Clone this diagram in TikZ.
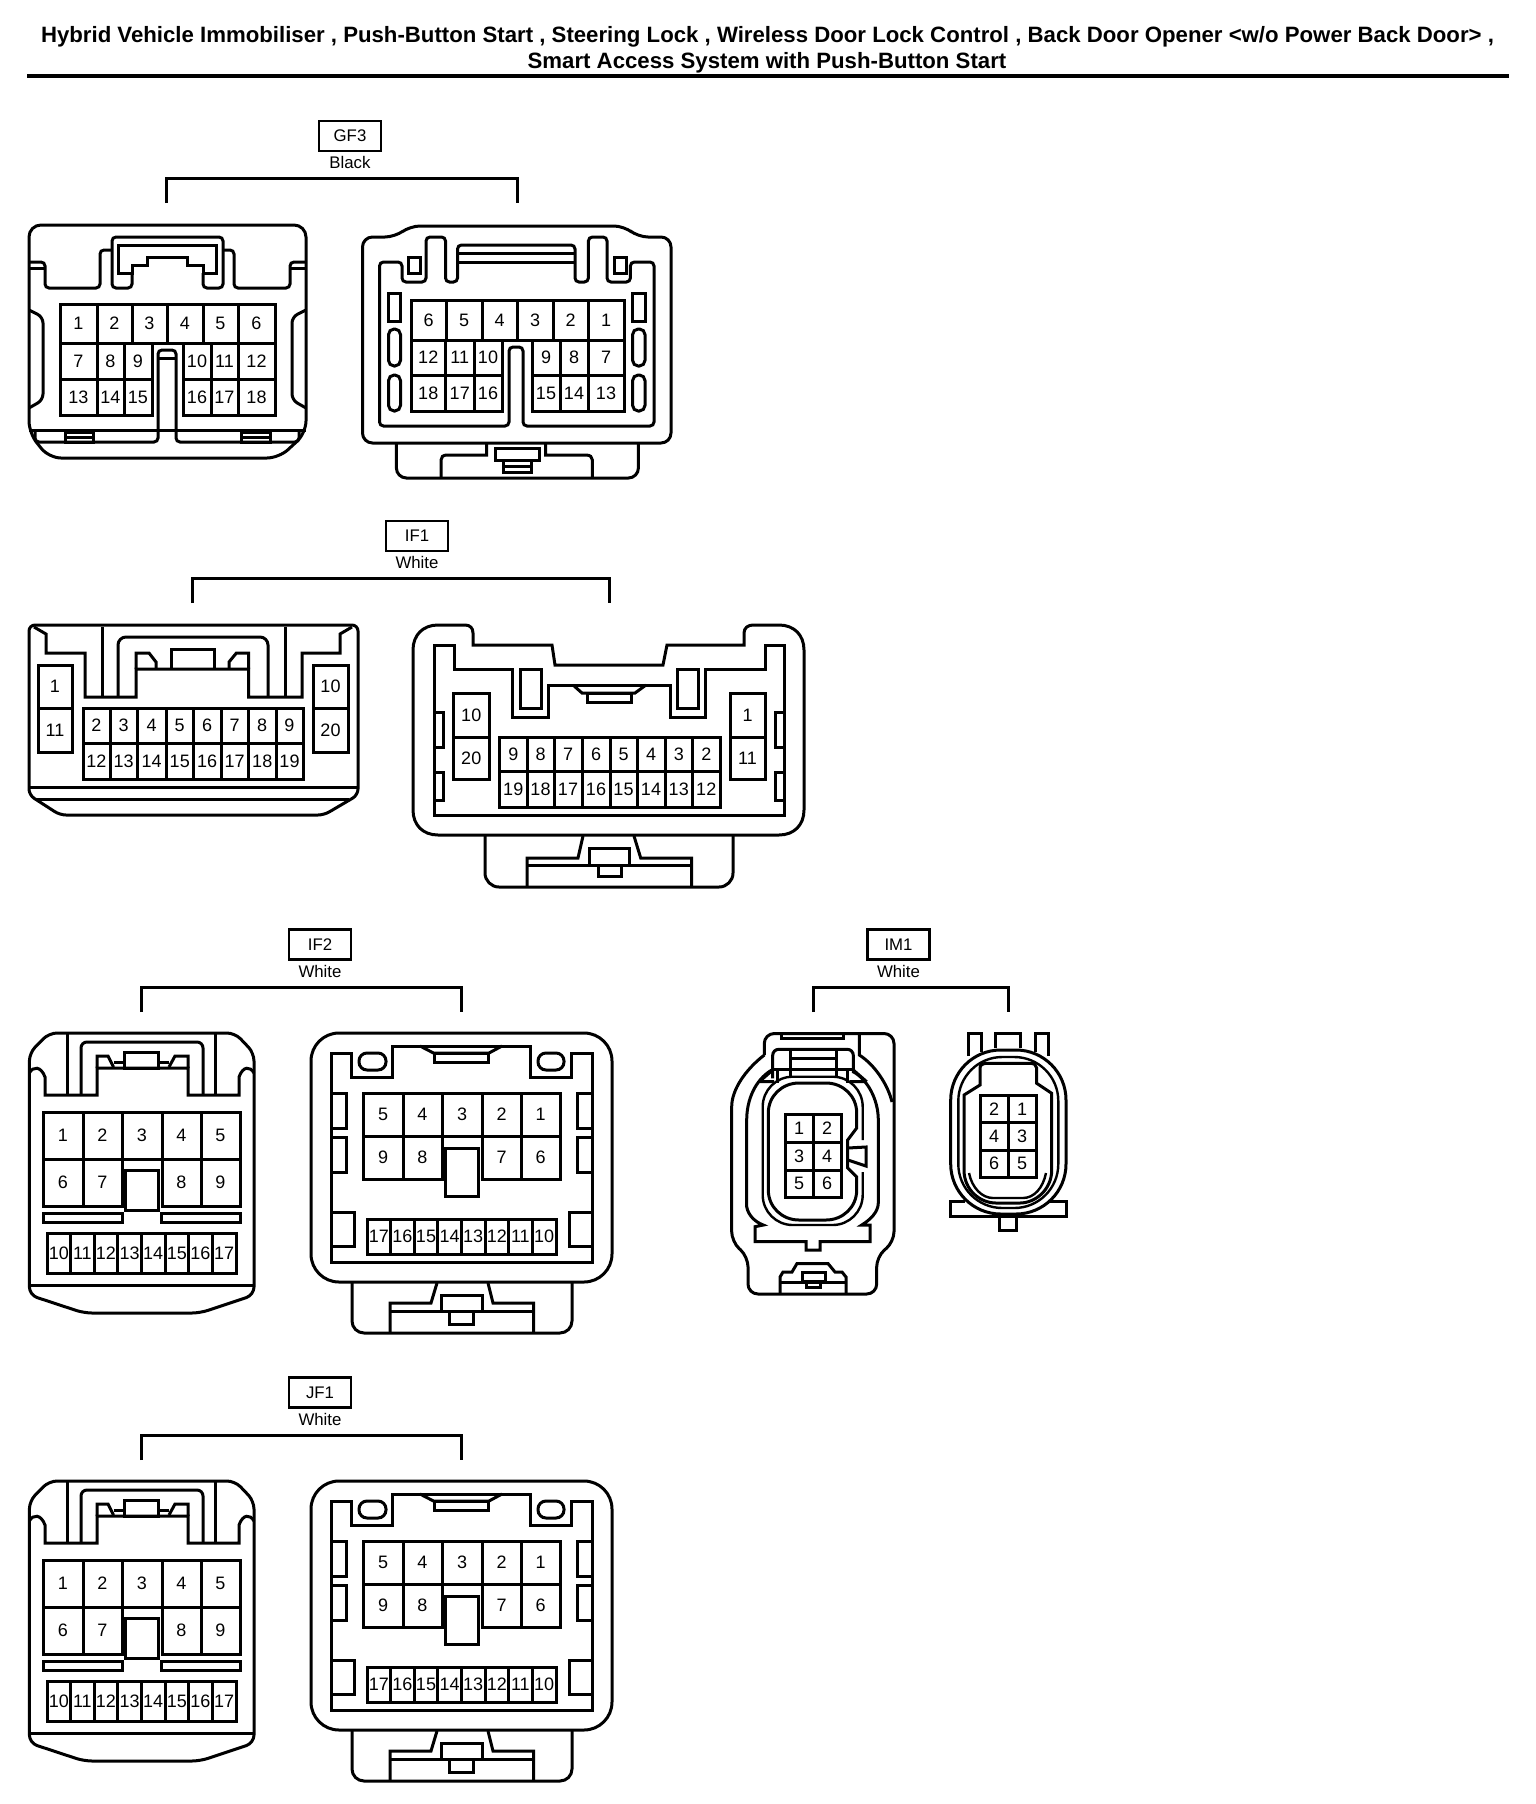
\documentclass[tikz,border=0pt]{standalone}
\usepackage{xcolor}
\usepackage{fontspec}
\setmainfont{Liberation Sans}
\usepackage{tikz}
\usetikzlibrary{positioning}

\tikzset{
	conn/.style={line width=1.5pt},
	ringline/.style={line width=1.2pt},
	gridline/.style={line width=1.5pt},
	pinlabel/.style={inner sep=0pt,font=\fontsize{9}{10}\selectfont},
	tagbox/.style={draw,line width=1.3pt,minimum width=31pt,minimum height=15pt,inner sep=0pt,font=\fontsize{8.4}{10}\selectfont},
	colourlabel/.style={inner sep=0pt,font=\fontsize{8.4}{10}\selectfont},
	bracket/.style={line width=1.5pt},
	headline/.style={inner sep=0pt,font=\fontsize{11.1}{13}\selectfont\bfseries},
}

% one row of pins: name prefix, top, bottom, left edge, right edge/label list
\newcommand{\pinrow}[5]{
	\foreach \xb/\lab [remember=\xb as \xa (initially #4)] in {#5} {
		\draw[gridline] (\xa,#2) rectangle (\xb,#3);
		\node[pinlabel] (#1\lab) at ({(\xa+\xb)/2},{(#2+#3)/2}) {\lab};
	}
}

% tag, colour and bracket above a connector pair
\newcommand{\tagged}[8]{
	\node[tagbox] (#1tag) at (#3,#4) {#2};
	\node[colourlabel,below=2pt of #1tag] (#1col) {#5};
	\coordinate (#1L) at (#6,#8);
	\coordinate (#1R) at (#7,#8);
	\draw[bracket] (#1L) -- ++(0,-25) -| (#1R);
}

% the pair used by IF2 and JF1
\newcommand{\wideconn}[2]{
	\tagged{#1}{#2}{320}{944.5}{White}{141}{461}{1012}
	% left half
	\draw[conn,rounded corners=4pt] (29.4,1295) -- (29.4,1053) -- (49,1033) -- (235,1033) -- (254,1053) -- (254,1295) -- (200,1313) -- (84,1313) -- cycle;
	\draw[conn] (29.4,1285) -- (254,1285);
	\draw[conn] (29.4,1073) .. controls (33,1066) and (41,1066) .. (45,1077) -- (45,1095) -- (97,1095) -- (97,1068) -- (188,1068) -- (188,1095) -- (239,1095) -- (239,1077) .. controls (243,1066) and (250,1066) .. (254,1073);
	\draw[conn,rounded corners=2pt] (67,1095) -- (67,1034);
	\draw[conn,rounded corners=2pt] (215.5,1095) -- (215.5,1034);
	\draw[conn,rounded corners=3pt] (81,1095) -- (81,1042) -- (203,1042) -- (203,1095);
	\draw[conn] (97,1068) -- (97,1056) -- (108,1056) -- (113.5,1067);
	\draw[conn] (188,1068) -- (188,1056) -- (175,1056) -- (169,1067);
	\draw[conn] (124.5,1068) rectangle (158,1052);
	\draw[gridline] (113.5,1062) -- (124.5,1062);
	\draw[gridline] (158,1062) -- (169,1062);
	\pinrow{#1a}{1112}{1159}{43}{83/1,122/2,162/3,201/4,240/5}
	\pinrow{#1a}{1159}{1206}{43}{83/6,122/7}
	\pinrow{#1a}{1159}{1206}{162}{201/8,240/9}
	\draw[conn] (125,1170) rectangle (158,1210);
	\draw[gridline] (43,1213) rectangle (122,1222);
	\draw[gridline] (161,1213) rectangle (240,1222);
	\pinrow{#1a}{1233}{1273}{47}{70.6/10,94.2/11,117.8/12,141.4/13,165/14,188.6/15,212.2/16,236/17}
	% right half
	\draw[conn,rounded corners=14pt] (311,1033) rectangle (612,1282);
	\draw[conn] (331.5,1053) -- (351,1053) -- (351,1077) -- (392.7,1077) -- (392.7,1046) -- (530.6,1046) -- (530.6,1077) -- (571.4,1077) -- (571.4,1053) -- (592,1053) -- (592,1262) -- (331.5,1262) -- cycle;
	\draw[conn,rounded corners=4pt] (359,1053) rectangle (386,1070);
	\draw[conn,rounded corners=4pt] (538,1053) rectangle (564,1070);
	\draw[conn] (420,1046) -- (433.5,1053) -- (489,1053) -- (502,1046);
	\draw[conn] (434.7,1053) rectangle (488,1062);
	\draw[conn] (331.5,1093) -- (346,1093) -- (346,1128) -- (331.5,1128);
	\draw[conn] (331.5,1137) -- (346,1137) -- (346,1172) -- (331.5,1172);
	\draw[conn] (592,1093) -- (577.5,1093) -- (577.5,1128) -- (592,1128);
	\draw[conn] (592,1137) -- (577.5,1137) -- (577.5,1172) -- (592,1172);
	\draw[conn] (331.5,1212) -- (354,1212) -- (354,1246) -- (331.5,1246);
	\draw[conn] (592,1212) -- (569,1212) -- (569,1246) -- (592,1246);
	\pinrow{#1b}{1093}{1136}{363}{403/5,442/4,482/3,521/2,560/1}
	\pinrow{#1b}{1136}{1179}{363}{403/9,442/8}
	\pinrow{#1b}{1136}{1179}{482}{521/7,560/6}
	\draw[conn,fill=white] (445,1148) rectangle (478,1196);
	\pinrow{#1b}{1219}{1254}{367}{390.6/17,414.2/16,437.8/15,461.4/14,485/13,508.6/12,532.2/11,556/10}
	\draw[conn,rounded corners=6pt] (352,1282) -- (352,1333) -- (572,1333) -- (572,1282);
	\draw[conn] (390,1333) -- (390,1303) -- (431,1303) -- (437,1283);
	\draw[conn] (533.5,1333) -- (533.5,1303) -- (493,1303) -- (488,1283);
	\draw[conn] (390,1311) -- (533.5,1311);
	\draw[conn] (441,1311) -- (441,1295) -- (482,1295) -- (482,1311);
	\draw[conn] (449,1311) -- (449,1324) -- (473.5,1324) -- (473.5,1311);
}

\begin{document}
\begin{tikzpicture}[x=0.5pt,y=-0.5pt]
	\useasboundingbox (0,0) rectangle (1536,1804);

	\node[headline] (headA) at (767.5,37) {Hybrid Vehicle Immobiliser , Push-Button Start , Steering Lock , Wireless Door Lock Control , Back Door Opener <w/o Power Back Door> ,};
	\node[headline] (headB) at (767,63) {Smart Access System with Push-Button Start};
	\coordinate (ruleL) at (27,76);
	\coordinate (ruleR) at (1509,76);
	\draw[line width=2pt] (ruleL) -- (ruleR);

	% GF3
	\tagged{gf}{GF3}{350}{136}{Black}{166.5}{517}{203}
	\draw[conn,rounded corners=6pt] (29,433) -- (29,225) -- (306,225) -- (306,433) -- (279,458) -- (49,458) -- cycle;
	\draw[conn] (29,430) -- (306,430);
	\draw[conn,rounded corners=2pt] (35,430) -- (35,442) -- (158,442) -- (158,350) -- (176,350) -- (176,442) -- (299,442) -- (299,430);
	\draw[conn] (158,358) -- (176,358);
	\draw[gridline] (65,432) rectangle (93,442) (65,437) -- (93,437);
	\draw[gridline] (241,432) rectangle (270,442) (241,437) -- (270,437);
	\draw[conn,rounded corners=2pt] (29,262) -- (45,262) -- (45,288) -- (100,288) -- (100,250) -- (112,250);
	\draw[conn,rounded corners=2pt] (223,250) -- (234,250) -- (234,288) -- (290,288) -- (290,262) -- (306,262);
	\draw[gridline] (29,268) -- (45,268) (290,268) -- (306,268);
	\draw[conn,rounded corners=2pt] (132,273) -- (132,288) -- (112,288) -- (112,237) -- (223,237) -- (223,288) -- (203,288) -- (203,273);
	\draw[conn] (118,245) -- (216,245) -- (216,273) -- (203,273) -- (203,265) -- (187,265) -- (187,257) -- (147,257) -- (147,265) -- (132,265) -- (132,273) -- (118,273) -- cycle;
	\draw[conn,rounded corners=3pt] (29,310) -- (43,317) -- (43,400) -- (29,408);
	\draw[conn,rounded corners=3pt] (306,310) -- (292,317) -- (292,400) -- (306,408);
	\pinrow{gfa}{304}{343}{60}{97/1,132/2,167/3,203/4,238/5,275/6}
	\pinrow{gfa}{343}{379}{60}{97/7,124/8,152/9}
	\pinrow{gfa}{379}{415}{60}{97/13,124/14,152/15}
	\pinrow{gfa}{343}{379}{183}{211/10,238/11,275/12}
	\pinrow{gfa}{379}{415}{183}{211/16,238/17,275/18}

	\draw[conn,rounded corners=5pt] (362.5,443) -- (362.5,237) -- (395,237) -- (410,226) -- (624,226) -- (638,237) -- (671,237) -- (671,443) -- cycle;
	\draw[conn,rounded corners=2pt] (379.5,426) -- (379.5,262) -- (402,262) -- (402,282) -- (426,282) -- (426,237) -- (445.5,237) -- (445.5,282) -- (457.5,282) -- (457.5,245) -- (575,245) -- (575,282) -- (588.4,282) -- (588.4,237) -- (607,237) -- (607,282) -- (630.4,282) -- (630.4,262) -- (654,262) -- (654,426) -- (523,426) -- (523,347) -- (509,347) -- (509,426) -- cycle;
	\draw[gridline] (457.5,253.5) -- (575,253.5) (457.5,262) -- (575,262);
	\draw[conn] (408.5,257) rectangle (420.5,273);
	\draw[conn] (614,257) rectangle (626,273);
	\foreach \xa/\xb in {388.5/400.5,632.6/645} {
		\draw[conn] (\xa,293) rectangle (\xb,321);
		\draw[conn,rounded corners=2.8pt] (\xa,329) rectangle (\xb,366);
		\draw[conn,rounded corners=2.8pt] (\xa,375) rectangle (\xb,411);
	}
	\pinrow{gfb}{300}{340}{411}{446/6,482/5,517/4,553/3,588/2,624/1}
	\pinrow{gfb}{340}{375}{411}{445.5/12,474/11,502/10}
	\pinrow{gfb}{375}{411}{411}{445.5/18,474/17,502/16}
	\pinrow{gfb}{340}{375}{532}{560/9,588/8,624/7}
	\pinrow{gfb}{375}{411}{532}{560/15,588/14,624/13}
	\draw[conn,rounded corners=5pt] (396.4,443) -- (396.4,478) -- (638.4,478) -- (638.4,443);
	\draw[conn] (441,478) -- (441,460) .. controls (441,457) and (443,455) .. (447,455) -- (486.6,455) -- (486.6,443);
	\draw[conn] (592.4,478) -- (592.4,460) .. controls (592.4,457) and (590,455) .. (586,455) -- (545.5,455) -- (545.5,443);
	\draw[conn] (495.5,448) rectangle (539,460);
	\draw[conn] (503,460) rectangle (531,472) (503,466) -- (531,466);

	% IF1
	\tagged{ifa}{IF1}{417}{536}{White}{192.5}{609}{603}
	\draw[conn,rounded corners=3pt] (29,795) -- (29,625) -- (358,625) -- (358,795) -- (324,815) -- (60,815) -- cycle;
	\draw[conn] (29,787) -- (358,787);
	\draw[conn] (37,799) -- (349,799);
	\draw[conn] (34,627) -- (46,634) -- (46,653) -- (85,653) -- (85,697) -- (136,697) -- (136,669) -- (248.5,669) -- (248.5,697) -- (302,697) -- (302,653) -- (340,653) -- (340,634) -- (352,627);
	\draw[conn,rounded corners=2pt] (102,697) -- (102,627);
	\draw[conn,rounded corners=2pt] (285,697) -- (285,627);
	\draw[conn,rounded corners=4pt] (118,697) -- (118,637) -- (268,637) -- (268,697);
	\draw[conn] (136,669) -- (136,653) -- (149,653) -- (156,662) -- (156,669);
	\draw[conn] (248.5,669) -- (248.5,653) -- (236.4,653) -- (229,662) -- (229,669);
	\draw[conn] (171,669) -- (171,649) -- (214,649) -- (214,669);
	\pinrow{ifal}{665}{708}{38}{72/1}
	\pinrow{ifal}{708}{752}{38}{72/11}
	\pinrow{ifal}{665}{708}{313}{348/10}
	\pinrow{ifal}{708}{752}{313}{348/20}
	\pinrow{ifal}{708}{743}{83}{110/2,137.5/3,166/4,193.5/5,221/6,248.5/7,276/8,303/9}
	\pinrow{ifal}{743}{779}{83}{110/12,137.5/13,166/14,193.5/15,221/16,248.5/17,276/18,303/19}

	\draw[conn] (413,650) .. controls (413,635) and (423,625) .. (438,625) -- (465,625) .. controls (470,625) and (473,628) .. (473,633) -- (473,645) -- (552,645) -- (555,665) -- (663,665) -- (667,645) -- (744,645) -- (744,633) .. controls (744,628) and (748,625) .. (753,625) -- (779,625) .. controls (794,625) and (804,635) .. (804,650) -- (804,810) .. controls (804,825) and (794,835) .. (779,835) -- (438,835) .. controls (423,835) and (413,825) .. (413,810) -- cycle;
	\draw[conn] (434,645) -- (454,645) -- (454,669) -- (512.5,669) -- (512.5,717) -- (548,717) -- (548,685) -- (670.5,685) -- (670.5,717) -- (705,717) -- (705,669) -- (765,669) -- (765,645) -- (784.5,645) -- (784.5,815) -- (434,815) -- cycle;
	\draw[conn] (520,669) rectangle (541,708);
	\draw[conn] (677,669) rectangle (698,708);
	\draw[conn] (573,685) -- (582,693) -- (635,693) -- (646,685);
	\draw[conn] (587,693) rectangle (631,702);
	\draw[conn] (434,712) -- (443.5,712) -- (443.5,747) -- (434,747);
	\draw[conn] (434,772) -- (443.5,772) -- (443.5,800) -- (434,800);
	\draw[conn] (784.5,712) -- (775,712) -- (775,747) -- (784.5,747);
	\draw[conn] (784.5,772) -- (775,772) -- (775,800) -- (784.5,800);
	\pinrow{ifar}{693}{737}{453.5}{489/10}
	\pinrow{ifar}{737}{779}{453.5}{489/20}
	\pinrow{ifar}{693}{737}{730}{765/1}
	\pinrow{ifar}{737}{779}{730}{765/11}
	\pinrow{ifar}{737}{771}{499.5}{527/9,554/8,582/7,610/6,637/5,665/4,692.5/3,720/2}
	\pinrow{ifar}{771}{807}{499.5}{527/19,554/18,582/17,610/16,637/15,665/14,692.5/13,720/12}
	\draw[conn,rounded corners=7pt] (485,835) -- (485,887) -- (733,887) -- (733,835);
	\draw[conn] (527,887) -- (527,858) -- (578,858) -- (583,836);
	\draw[conn] (691.5,887) -- (691.5,858) -- (640.7,858) -- (634,836);
	\draw[conn] (527,865) -- (691.5,865);
	\draw[conn] (589,865) -- (589,848) -- (629,848) -- (629,865);
	\draw[conn] (598,865) -- (598,876) -- (621,876) -- (621,865);

	% IF2
	\wideconn{ifb}{IF2}

	% JF1 repeats the IF2 pair lower on the page
	\begin{scope}[yshift=-224pt]
		\wideconn{jf}{JF1}
	\end{scope}

	% IM1
	\tagged{im}{IM1}{898.5}{944.5}{White}{813}{1008}{1012}
	\draw[conn,rounded corners=5pt] (764.3,1055) -- (764.3,1033.5) -- (894,1033.5) -- (894,1241.7) -- (876.7,1256.7) -- (876.7,1294) -- (748,1294) -- (748,1256.7) -- (731.7,1241.7) -- (731.7,1116.7) .. controls (731.7,1090) and (745,1070) .. (764.3,1055);
	\draw[conn] (859.3,1033.5) -- (859.3,1055) .. controls (875,1065) and (888,1085) .. (892,1102);
	\draw[conn] (781,1033.5) -- (781,1038) -- (843,1038) -- (843,1033.5);
	\draw[conn,rounded corners=3pt] (772.7,1078.3) -- (772.7,1049.3) -- (853.3,1049.3) -- (853.3,1073);
	\draw[conn] (790.7,1049.3) -- (790.7,1078) (836,1049.3) -- (836,1078);
	\draw[conn] (790.7,1058.3) -- (836,1058.3);
	\draw[conn] (772.7,1069) -- (853.3,1069);
	\draw[conn] (771.7,1070) .. controls (755,1080) and (746.7,1100) .. (746.7,1120) -- (746.7,1206.7) .. controls (748,1215) and (755,1222) .. (763.3,1225) -- (755,1226.7) -- (755,1241.7) -- (806,1241.7) -- (806,1250) -- (820,1250) -- (820,1241.7) -- (870,1241.7) -- (870,1225) -- (861.7,1225) .. controls (870,1220) and (878.3,1212) .. (878.3,1203) -- (878.3,1120) .. controls (878.3,1100) and (868,1080) .. (853.3,1071.7);
	\draw[gridline] (759.3,1081.7) -- (774,1081.7) (759.3,1081.7) -- (772.7,1070);
	\draw[gridline] (850,1081.7) -- (866.7,1081.7) (866.7,1081.7) -- (853.3,1070);
	\draw[gridline] (777.3,1070) -- (777.3,1083.3) (847.3,1070) -- (847.3,1083.3);
	\draw[ringline,rounded corners=15pt] (862.7,1140) -- (862.7,1076.7) -- (762.7,1076.7) -- (762.7,1225) -- (862.7,1225) -- (862.7,1172);
	\draw[conn] (856.7,1128) -- (847.7,1140) -- (847.7,1168) -- (856.7,1177) -- (856.7,1190) .. controls (856.7,1207) and (843,1220) .. (826,1220) -- (799,1220) .. controls (782,1220) and (768.3,1207) .. (768.3,1190) -- (768.3,1113) .. controls (768.3,1096) and (782,1083) .. (799,1083) -- (826,1083) .. controls (843,1083) and (856.7,1096) .. (856.7,1113) -- cycle;
	\draw[conn] (848,1148) -- (866,1147) -- (866,1166) -- (848,1160);
	\draw[conn] (780,1294) -- (780,1277) -- (783,1272) -- (792,1272) -- (797,1263.5) -- (828,1263.5) -- (835,1272) -- (842,1272) -- (846,1277) -- (846,1294);
	\draw[conn] (780,1282) -- (846,1282);
	\draw[conn] (802.3,1272) rectangle (825.7,1281);
	\draw[conn] (806.7,1281) rectangle (820,1287.5);
	\pinrow{ima}{1114.3}{1142.3}{785}{813.3/1,841/2}
	\pinrow{ima}{1142.3}{1170}{785}{813.3/3,841/4}
	\pinrow{ima}{1170}{1197.3}{785}{813.3/5,841/6}

	\draw[conn] (968.3,1056) -- (968.3,1033.3) -- (981,1033.3) -- (981,1052);
	\draw[conn] (995,1048) -- (995,1033.3) -- (1020,1033.3) -- (1020,1048);
	\draw[conn] (1035,1052) -- (1035,1033.3) -- (1048.3,1033.3) -- (1048.3,1056);
	\draw[conn,rounded corners=25pt] (950.7,1050) rectangle (1066,1214);
	\draw[ringline,rounded corners=22pt] (958.3,1057) rectangle (1058.3,1208);
	\draw[conn] (980,1085) -- (980,1068) .. controls (980,1065) and (983,1063.3) .. (987,1063.3) -- (1030,1063.3) .. controls (1034,1063.3) and (1036.7,1065) .. (1036.7,1068) -- (1036.7,1083.3) -- (1051.7,1093.3) -- (1051.7,1170) .. controls (1051.7,1190) and (1035,1203) .. (1020,1203) -- (996,1203) .. controls (980,1203) and (964,1190) .. (964,1170) -- (964,1095) -- cycle;
	\draw[ringline] (969,1173) .. controls (972,1188) and (982,1198) .. (993,1198) -- (1023,1198) .. controls (1034,1198) and (1043,1188) .. (1046,1173);
	\draw[conn] (965,1201.7) -- (950.7,1201.7) -- (950.7,1216) -- (1066,1216) -- (1066,1201.7) -- (1050,1201.7);
	\draw[conn] (999,1216) -- (999,1230.7) -- (1016,1230.7) -- (1016,1216);
	\pinrow{imb}{1095.7}{1122.7}{980}{1008.3/2,1036/1}
	\pinrow{imb}{1122.7}{1150}{980}{1008.3/4,1036/3}
	\pinrow{imb}{1150}{1177.3}{980}{1008.3/6,1036/5}
\end{tikzpicture}
\end{document}
